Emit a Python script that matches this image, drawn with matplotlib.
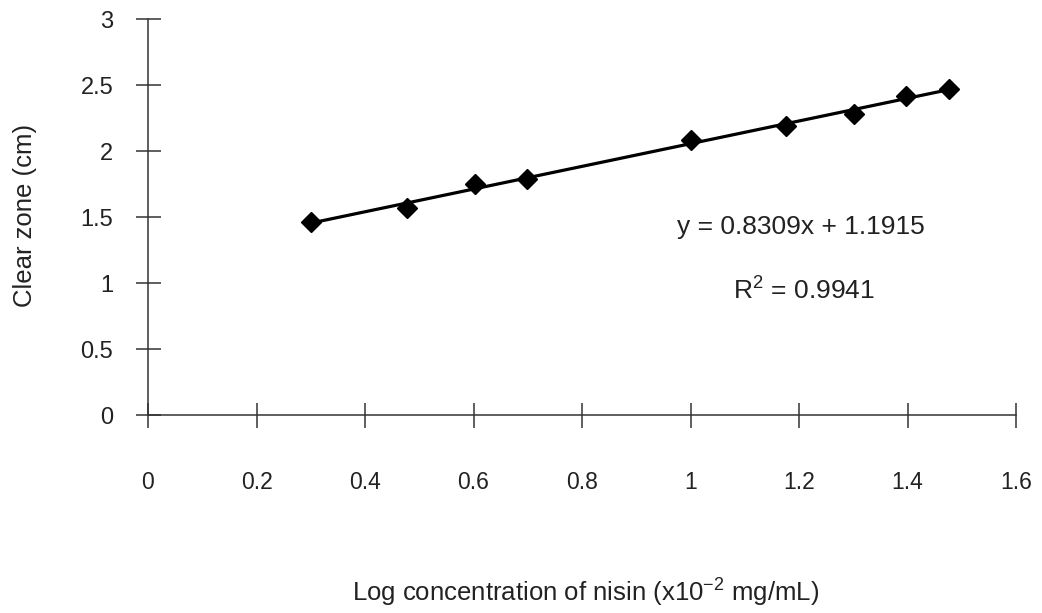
import numpy as np
import matplotlib
matplotlib.use("Agg")
import matplotlib.pyplot as plt

# Data (log concentration vs clear zone)
log_conc = [0.301, 0.477, 0.602, 0.699, 1.000, 1.176, 1.301, 1.398, 1.477]
clear_zone = [1.46, 1.57, 1.75, 1.79, 2.08, 2.19, 2.28, 2.42, 2.47]

x_ticks = [0, 0.2, 0.4, 0.6, 0.8, 1.0, 1.2, 1.4, 1.6]
x_tick_labels = ["0", "0.2", "0.4", "0.6", "0.8", "1", "1.2", "1.4", "1.6"]
y_ticks = [0, 0.5, 1.0, 1.5, 2.0, 2.5, 3.0]
y_tick_labels = ["0", "0.5", "1", "1.5", "2", "2.5", "3"]

eq_text = "y = 0.8309x + 1.1915"
r2_text = "R$^{2}$ = 0.9941"

plt.rcParams['font.family'] = ['Liberation Sans', 'DejaVu Sans']
plt.rcParams['mathtext.fontset'] = 'custom'
plt.rcParams['mathtext.rm'] = 'Liberation Sans'

fig = plt.figure(figsize=(10.42, 6.13), dpi=100)
ax = fig.add_axes([148/1042, (613-415)/613, (1016-148)/1042, (415-19)/613])

# Trendline from a linear fit of the data
coef = np.polyfit(log_conc, clear_zone, 1)
xs = np.array([min(log_conc), max(log_conc)])
ax.plot(xs, np.polyval(coef, xs), color='black', lw=2.3, zorder=2)
ax.plot(log_conc, clear_zone, linestyle='none', marker='D', markersize=10,
        color='black', zorder=3)

ax.set_xlim(0, 1.6)
ax.set_ylim(0, 3)
ax.set_xticks(x_ticks)
ax.set_xticklabels(x_tick_labels)
ax.set_yticks(y_ticks)
ax.set_yticklabels(y_tick_labels)

for s in ['top', 'right']:
    ax.spines[s].set_visible(False)
for s in ['left', 'bottom']:
    ax.spines[s].set_color('#333333')
    ax.spines[s].set_linewidth(1.1)

ax.tick_params(axis='x', direction='inout', length=18, width=1.1, color='#333333',
               pad=31, labelsize=16.5, labelcolor='#222222')
ax.tick_params(axis='y', direction='inout', length=18, width=1.1, color='#333333',
               pad=16, labelsize=17, labelcolor='#222222')

fig.text(677/1042, 1 - 227/613, eq_text, fontsize=19, color='#222222',
         ha='left', va='center')
fig.text(733/1042, 1 - 290/613, r2_text, fontsize=19, color='#222222',
         ha='left', va='center')

fig.text(25/1042, 1 - 215/613, "Clear zone (cm)", rotation=90, fontsize=18.5,
         color='#222222', ha='center', va='center')
fig.text(586/1042, 1 - 592/613, "Log concentration of nisin (x10$^{-2}$ mg/mL)",
         fontsize=18.5, color='#222222', ha='center', va='center')

fig.savefig("out.png", dpi=100, facecolor='white')
